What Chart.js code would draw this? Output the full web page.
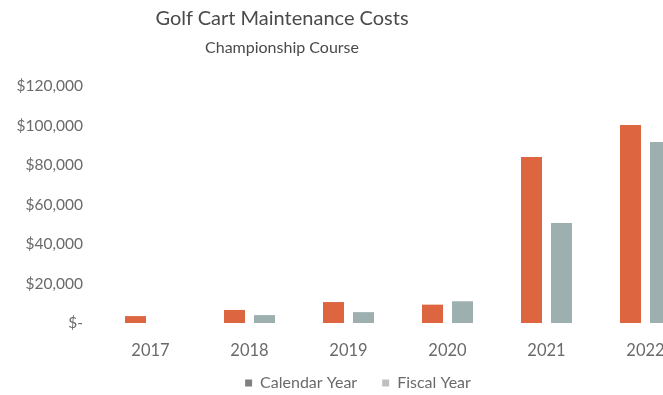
<!DOCTYPE html>
<html>
<head>
  <title>Golf Cart Maintenance Costs</title>
  <script src="https://cdn.jsdelivr.net/npm/chart.js"></script>
  <style>
    body { margin: 0; overflow: hidden; background: #fff; font-family: Lato, sans-serif; }
    #wrap { position: relative; width: 716px; height: 395px; overflow: hidden; }
    .title { position: absolute; left: 0; width: 564px; text-align: center; color: #4a4a4a; }
    #t1 { top: 5px; font-size: 20px; }
    #t2 { top: 37px; font-size: 16px; }
  </style>
</head>
<body>
<div id="wrap">
  <div class="title" id="t1">Golf Cart Maintenance Costs</div>
  <div class="title" id="t2">Championship Course</div>
  <canvas id="costChart" width="716" height="401"></canvas>
</div>

<script>
  // values
  const years = ['2017', '2018', '2019', '2020', '2021', '2022'];
  const calendarYear = [3500, 6600, 10600, 9300, 84000, 100300];
  const fiscalYear = [0, 4000, 5500, 11000, 50600, 91600];
  const yTicks = [0, 20000, 40000, 60000, 80000, 100000, 120000];

  const fmt = v => v === 0 ? '$-' : '$' + v.toLocaleString('en-US');

  // axes clip their labels to their own box; widen the boxes so nothing gets cut
  const unclipLabels = {
    id: 'unclipLabels',
    afterLayout(chart) {
      chart.scales.x.bottom = chart.height;
      chart.scales.y.left = 0;
    }
  };

  const ctx = document.getElementById('costChart').getContext('2d');
  new Chart(ctx, {
    type: 'bar',
    data: {
      labels: years,
      datasets: [{
        label: 'Calendar Year',
        data: calendarYear,
        backgroundColor: '#DD6540',
        categoryPercentage: 0.606,
        barPercentage: 0.7
      }, {
        label: 'Fiscal Year',
        data: fiscalYear,
        backgroundColor: '#9DAFAF',
        categoryPercentage: 0.606,
        barPercentage: 0.7
      }]
    },
    plugins: [unclipLabels],
    options: {
      responsive: false,
      animation: false,
      layout: { padding: { top: 86, right: 21, left: 21, bottom: 0 } },
      plugins: {
        legend: {
          position: 'bottom',
          labels: {
            color: '#6a6a6a',
            font: { family: 'Lato', size: 16 },
            boxWidth: 7,
            boxHeight: 7,
            padding: 25,
            generateLabels: chart => chart.data.datasets.map((ds, i) => ({
              text: ds.label,
              fillStyle: i === 0 ? '#808080' : '#c0c0c0',
              strokeStyle: 'transparent',
              lineWidth: 0,
              datasetIndex: i,
              fontColor: '#6a6a6a'
            }))
          }
        },
        tooltip: { enabled: false }
      },
      scales: {
        x: {
          afterFit: axis => { axis.height = 27; },
          grid: { display: false, drawTicks: false },
          border: { display: false },
          ticks: { color: '#6a6a6a', font: { family: 'Lato', size: 16.5 }, padding: 18 }
        },
        y: {
          min: 0,
          max: 120000,
          afterFit: axis => { axis.width = 80; },
          afterBuildTicks: axis => { axis.ticks = yTicks.map(v => ({ value: v })); },
          grid: { display: false, drawTicks: false },
          border: { display: false },
          ticks: { color: '#6a6a6a', font: { family: 'Lato', size: 15.5 }, padding: 18, callback: fmt }
        }
      }
    }
  });
</script>
</body>
</html>
